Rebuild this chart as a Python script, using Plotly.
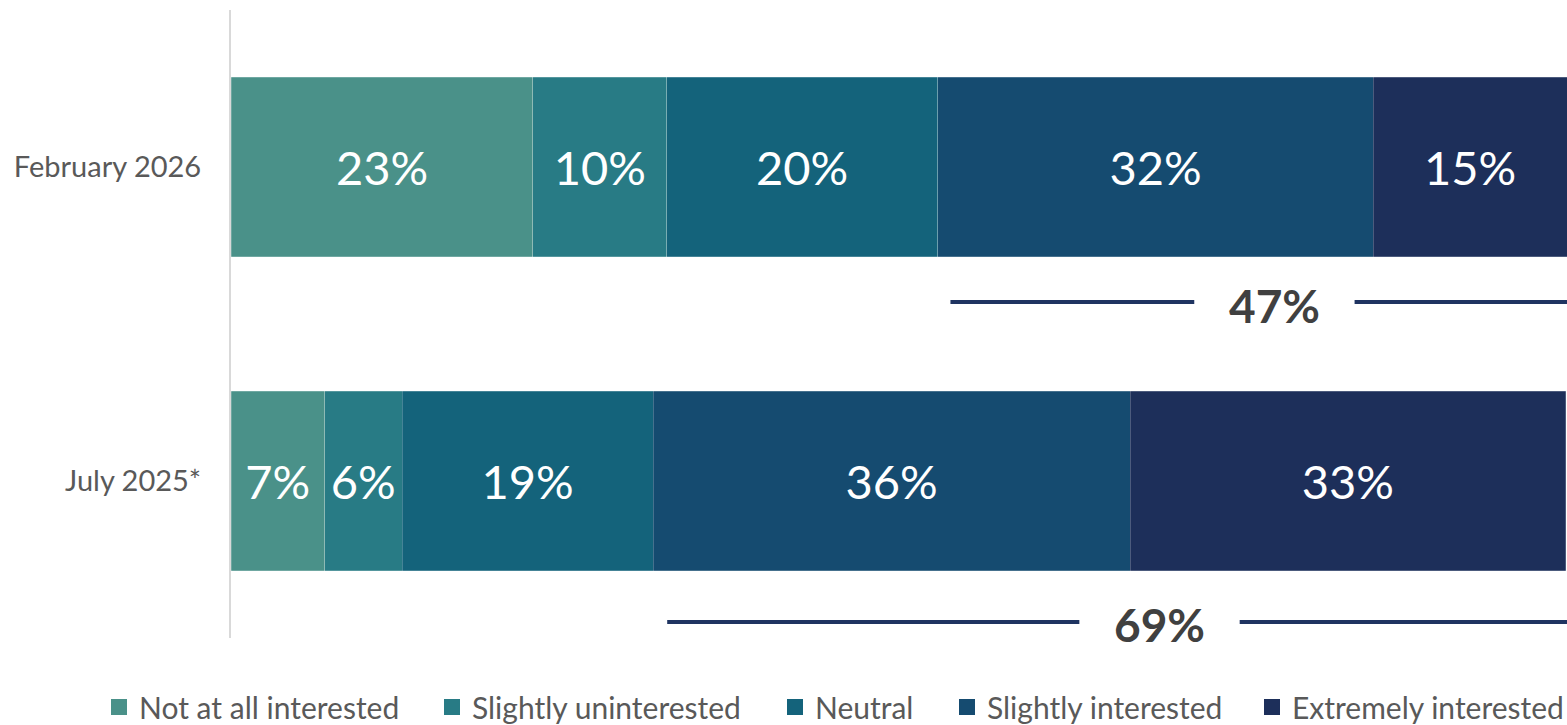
import plotly.graph_objects as go

periods = ["February 2026", "July 2025*"]
categories = ["Not at all interested", "Slightly uninterested", "Neutral",
              "Slightly interested", "Extremely interested"]
# values per category: [February 2026, July 2025*]
values = {
    "Not at all interested": [22.6, 7.0],
    "Slightly uninterested": [10.0, 5.8],
    "Neutral": [20.3, 18.8],
    "Slightly interested": [32.6, 35.7],
    "Extremely interested": [14.5, 32.6],
}
labels = {
    "Not at all interested": ["23%", "7%"],
    "Slightly uninterested": ["10%", "6%"],
    "Neutral": ["20%", "19%"],
    "Slightly interested": ["32%", "36%"],
    "Extremely interested": ["15%", "33%"],
}
net_labels = ["47%", "69%"]
colors = ["#4A9189", "#287B85", "#14637B", "#154B70", "#1D2F5A"]

FONT = "Lato"
L, R, T, B = 231, 0, 10, 87
W, H = 1567, 725
PW = W - L - R
PH = H - T - B

fig = go.Figure()
legend_px = [99, 432, 775, 947, 1252]  # page px where each legend box starts
legend_names = ["legend", "legend2", "legend3", "legend4", "legend5"]
for cat, col, lg in zip(categories, colors, legend_names):
    fig.add_trace(go.Bar(
        y=periods, x=values[cat], name=cat, orientation="h",
        marker=dict(color=col, line=dict(color="rgba(255,255,255,0.35)", width=0.6)),
        text=labels[cat], textposition="inside", insidetextanchor="middle",
        textfont=dict(color="white", size=47, family=FONT),
        hoverinfo="skip", showlegend=False,
    ))
    # legend swatch (square marker)
    fig.add_trace(go.Scatter(
        x=[None], y=[None], mode="markers", name=cat,
        marker=dict(symbol="square", size=16, color=col),
        hoverinfo="skip", legend=lg, showlegend=True,
    ))

# net interested brackets
line_col = "#1F3461"
net_y = [0.43, 1.449]
net_text_x = [78.1, 69.5]
half_gap = 6.0
for i, p in enumerate(periods):
    total = values["Slightly interested"][i] + values["Extremely interested"][i]
    start = 100 - total + 0.95
    tx = net_text_x[i]
    for x0, x1 in [(start, tx - half_gap), (tx + half_gap, 100)]:
        fig.add_shape(type="line", xref="x", yref="y", x0=x0, x1=x1,
                      y0=net_y[i], y1=net_y[i], line=dict(color=line_col, width=4))
    fig.add_annotation(x=tx, y=net_y[i], xref="x", yref="y", text=f"<b>{net_labels[i]}</b>",
                       showarrow=False, font=dict(size=46, color="#404040", family=FONT),
                       yshift=-3)

legend_cfg = {}
for lg, px in zip(legend_names, legend_px):
    legend_cfg[lg] = dict(orientation="h", x=(px - L) / PW, xanchor="left",
                          y=-69 / PH, yanchor="middle",
                          font=dict(size=30, color="#595959", family=FONT),
                          itemclick=False, itemdoubleclick=False,
                          bgcolor="rgba(0,0,0,0)")

fig.update_layout(
    barmode="stack", bargap=0.427,
    width=W, height=H,
    margin=dict(l=L, r=R, t=T, b=B, autoexpand=False),
    plot_bgcolor="white", paper_bgcolor="white",
    font=dict(family=FONT, color="#595959"),
    showlegend=True,
    xaxis=dict(range=[0, 100], visible=False, fixedrange=True),
    yaxis=dict(range=[1.5, -0.5], showline=True, linecolor="#D9D9D9", linewidth=2,
               ticks="", showgrid=False, zeroline=False,
               tickfont=dict(size=29, color="#595959", family=FONT),
               ticklabelstandoff=22),
    **legend_cfg,
)

fig.write_html(
    "out.html",
    config={"responsive": False, "displayModeBar": False},
    post_script="document.body.style.margin='0';document.body.style.overflow='hidden';",
)
